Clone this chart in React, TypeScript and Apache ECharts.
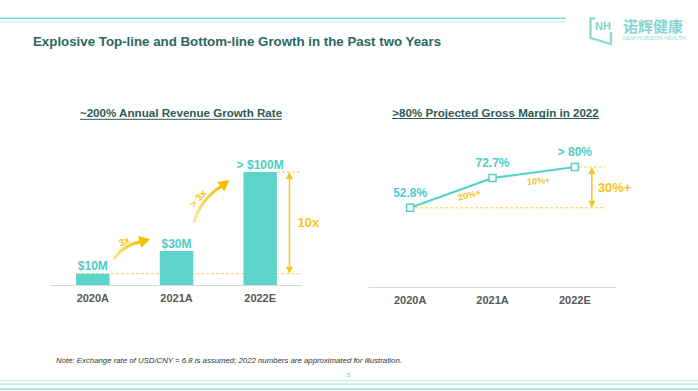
import React, { useEffect, useRef } from "react";
import * as echarts from "echarts";

const categories = ["2020A", "2021A", "2022E"];
const revenue = [10, 30, 100];
const revenueLabels = ["$10M", "$30M", "> $100M"];
const margin = [52.8, 72.7, 80];
const marginLabels = ["52.8%", "72.7%", "> 80%"];
const growthLabels = ["3x", "> 3x", "10x"];
const marginGrowthLabels = ["20%+", "10%+", "30%+"];

const FONT = "'Liberation Sans', Arial, sans-serif";
const TEAL = "#55d0c6";
const YEL = "#f5c518";
const DASH = "#f3d04a";

export default function App() {
  const ref = useRef<HTMLDivElement>(null);
  useEffect(() => {
    document.body.style.margin = "0";
    const chart = echarts.init(ref.current!, null, { renderer: "svg" });
    const axisLabel = { color: "#595959", fontWeight: "bold", fontSize: 11, margin: 7, fontFamily: FONT };
    const axisLine = { lineStyle: { color: "#d9d9d9", width: 1 } };
    chart.setOption({
      animation: false,
      backgroundColor: "#ffffff",
      grid: [
        { left: 51, right: 396, top: 149.4, bottom: 106 },
        { left: 369, right: 82, top: 137, bottom: 104 },
      ],
      xAxis: [
        { type: "category", gridIndex: 0, data: categories, axisTick: { show: false }, axisLine, axisLabel },
        { type: "category", gridIndex: 1, data: categories, axisTick: { show: false }, axisLine, axisLabel },
      ],
      yAxis: [
        { type: "value", gridIndex: 0, min: 0, max: 120, show: false },
        { type: "value", gridIndex: 1, min: 0, max: 100, show: false },
      ],
      series: [
        {
          type: "bar",
          xAxisIndex: 0,
          yAxisIndex: 0,
          data: revenue,
          barWidth: "40%",
          itemStyle: { color: "#5cd4c9" },
          label: {
            show: true,
            position: "top",
            distance: 1.5,
            formatter: (p: any) => revenueLabels[p.dataIndex],
            color: "#4ecdc4",
            fontWeight: "bold",
            fontSize: 12,
            fontFamily: FONT,
          },
        },
        {
          type: "line",
          xAxisIndex: 1,
          yAxisIndex: 1,
          data: margin,
          symbol: "rect",
          symbolSize: 7,
          itemStyle: { color: "#ffffff", borderColor: TEAL, borderWidth: 1.5 },
          lineStyle: { color: TEAL, width: 2 },
          label: {
            show: true,
            position: "top",
            distance: 5,
            formatter: (p: any) => marginLabels[p.dataIndex],
            color: "#4ecdc4",
            fontWeight: "bold",
            fontSize: 12,
            fontFamily: FONT,
          },
        },
      ],
    });

    const px = (g: number, x: number, y: number) => chart.convertToPixel({ gridIndex: g } as any, [x, y]) as number[];
    const b = revenue.map((v, i) => px(0, i, v));
    const bw0 = b[1][0] - b[0][0];
    const m = margin.map((v, i) => px(1, i, v));
    const gridRight0 = b[2][0] + bw0 / 2;

    const dashed = (x1: number, y: number, x2: number) => ({
      type: "line",
      shape: { x1, y1: y, x2, y2: y },
      style: { stroke: DASH, lineWidth: 1, lineDash: [3, 2] },
      silent: true,
    });
    const vArrow = (x: number, y1: number, y2: number) => [
      { type: "line", shape: { x1: x, y1: y1 + 5, x2: x, y2: y2 - 5 }, style: { stroke: YEL, lineWidth: 1.5 } },
      { type: "polygon", shape: { points: [[x, y1], [x - 3.5, y1 + 7], [x + 3.5, y1 + 7]] }, style: { fill: YEL } },
      { type: "polygon", shape: { points: [[x, y2], [x - 3.5, y2 - 7], [x + 3.5, y2 - 7]] }, style: { fill: YEL } },
    ];
    const txt = (x: number, y: number, text: string, opts: any = {}) => ({
      type: "text",
      x,
      y,
      rotation: opts.rotation || 0,
      style: {
        text,
        x: 0,
        y: 0,
        fill: opts.fill || "#333",
        font: opts.font || `12px ${FONT}`,
        align: opts.align || "center",
        verticalAlign: "middle",
        textAlign: opts.align || "center",
        textVerticalAlign: "middle",
      },
    });
    const curvedArrow = (pts: number[][], tip: number[], dir: number[]) => {
      const len = Math.hypot(dir[0], dir[1]);
      const ux = dir[0] / len, uy = dir[1] / len;
      const hl = 11, hw = 6;
      const bx = tip[0] - ux * hl, by = tip[1] - uy * hl;
      return [
        {
          type: "bezierCurve",
          shape: {
            x1: pts[0][0], y1: pts[0][1],
            cpx1: pts[1][0], cpy1: pts[1][1],
            cpx2: pts[2][0], cpy2: pts[2][1],
            x2: bx + ux * 2, y2: by + uy * 2,
          },
          style: {
            stroke: new echarts.graphic.LinearGradient(0, 1, 1, 0, [
              { offset: 0, color: "#fbe9a8" },
              { offset: 1, color: "#f5c000" },
            ]),
            lineWidth: 3.2,
            fill: null,
          },
        },
        {
          type: "polygon",
          shape: { points: [[tip[0], tip[1]], [bx - uy * hw, by + ux * hw], [bx + uy * hw, by - ux * hw]] },
          style: { fill: "#f5c000" },
        },
      ];
    };

    const ax = b[2][0] + bw0 * 0.35;
    const mx = m[2][0] + 17;

    const elements: any[] = [
      // top lines
      { type: "line", shape: { x1: 0, y1: 18.3, x2: 566, y2: 18.3 }, style: { stroke: "#7fd6cd", lineWidth: 1.5 } },
      { type: "line", shape: { x1: 0, y1: 22, x2: 566, y2: 22 }, style: { stroke: "#dcf3f0", lineWidth: 1.5 } },
      // bottom lines
      { type: "line", shape: { x1: 0, y1: 380.7, x2: 698, y2: 380.7 }, style: { stroke: "#cdefeb", lineWidth: 1.2 } },
      { type: "line", shape: { x1: 0, y1: 384.2, x2: 698, y2: 384.2 }, style: { stroke: "#ade5df", lineWidth: 1.2 } },
      { type: "line", shape: { x1: 0, y1: 389, x2: 698, y2: 389 }, style: { stroke: "#92dcd4", lineWidth: 1.5 } },
      // title
      txt(33, 41.7, "Explosive Top-line and Bottom-line Growth in the Past two Years", {
        font: `bold 13.3px ${FONT}`, fill: "#2a6861", align: "left",
      }),
      // logo
      {
        type: "polyline",
        shape: { points: [[595, 18.5], [590.5, 18.5], [590.5, 38], [611, 44], [611, 32]] },
        style: { stroke: "#8bd9d0", lineWidth: 2.3, fill: null },
      },
      txt(603, 25.5, "NH", { font: `bold 11px ${FONT}`, fill: "#7fd3c9" }),
      txt(623, 25.5, "诺辉健康", { font: `bold 15px 'Noto Sans CJK SC', sans-serif`, fill: "#86d6cd", align: "left" }),
      txt(623, 38, "NEW HORIZON HEALTH", { font: `5.5px ${FONT}`, fill: "#95dad2", align: "left" }),
      // subtitles
      txt(181, 112.8, "~200% Annual Revenue Growth Rate", { font: `bold 11.6px ${FONT}`, fill: "#2d5a54" }),
      { type: "line", shape: { x1: 80, y1: 119.3, x2: 282, y2: 119.3 }, style: { stroke: "#2d5a54", lineWidth: 1 } },
      txt(495.5, 112, ">80% Projected Gross Margin in 2022", { font: `bold 11.6px ${FONT}`, fill: "#2d5a54" }),
      { type: "line", shape: { x1: 392, y1: 118.5, x2: 599, y2: 118.5 }, style: { stroke: "#2d5a54", lineWidth: 1 } },
      // left annotations
      dashed(b[0][0] - bw0 * 0.2, b[0][1], gridRight0),
      dashed(b[2][0] + bw0 * 0.2, b[2][1], gridRight0),
      ...vArrow(ax, b[2][1], b[0][1]),
      txt(ax + 8, (b[2][1] + b[0][1]) / 2, growthLabels[2], { font: `bold 13px ${FONT}`, fill: YEL, align: "left" }),
      ...curvedArrow(
        [[b[0][0] + 21, b[0][1] - 14], [b[0][0] + 27, b[0][1] - 25], [b[0][0] + 38, b[0][1] - 30]],
        [b[0][0] + 57.5, b[0][1] - 34.5],
        [1, -0.25]
      ),
      txt(b[0][0] + 31.5, b[0][1] - 32.5, growthLabels[0], { font: `bold 10px ${FONT}`, fill: YEL, rotation: 0.42 }),
      ...curvedArrow(
        [[b[1][0] + 17.5, b[1][1] - 28], [b[1][0] + 21, b[1][1] - 43], [b[1][0] + 31, b[1][1] - 56]],
        [b[1][0] + 53, b[1][1] - 71],
        [0.8, -0.6]
      ),
      txt(b[1][0] + 21.5, b[1][1] - 52.5, growthLabels[1], { font: `bold 10px ${FONT}`, fill: YEL, rotation: 0.85 }),
      // right annotations
      dashed(m[0][0], m[0][1], mx + 13),
      dashed(m[2][0] + 4, m[2][1], mx + 13),
      ...vArrow(mx, m[2][1], m[0][1]),
      txt(mx + 6, (m[2][1] + m[0][1]) / 2, marginGrowthLabels[2], { font: `bold 13px ${FONT}`, fill: YEL, align: "left" }),
      txt((m[0][0] + m[1][0]) / 2 + 18, (m[0][1] + m[1][1]) / 2 + 2, marginGrowthLabels[0], {
        font: `bold 9px ${FONT}`, fill: YEL, rotation: 0.25,
      }),
      txt((m[1][0] + m[2][0]) / 2 + 5, (m[1][1] + m[2][1]) / 2 + 8.5, marginGrowthLabels[1], {
        font: `bold 9px ${FONT}`, fill: YEL, rotation: 0.08,
      }),
      // footnote
      txt(56, 360.7, "Note: Exchange rate of USD/CNY = 6.8 is assumed; 2022 numbers are approximated for illustration.", {
        font: `italic 7.8px ${FONT}`, fill: "#333333", align: "left",
      }),
      txt(348.5, 375, "5", { font: `6px ${FONT}`, fill: "#4ecdc4" }),
    ];
    chart.setOption({ graphic: { elements } });
    return () => chart.dispose();
  }, []);
  return <div ref={ref} style={{ position: "fixed", left: 0, top: 0, width: 698, height: 391 }} />;
}
